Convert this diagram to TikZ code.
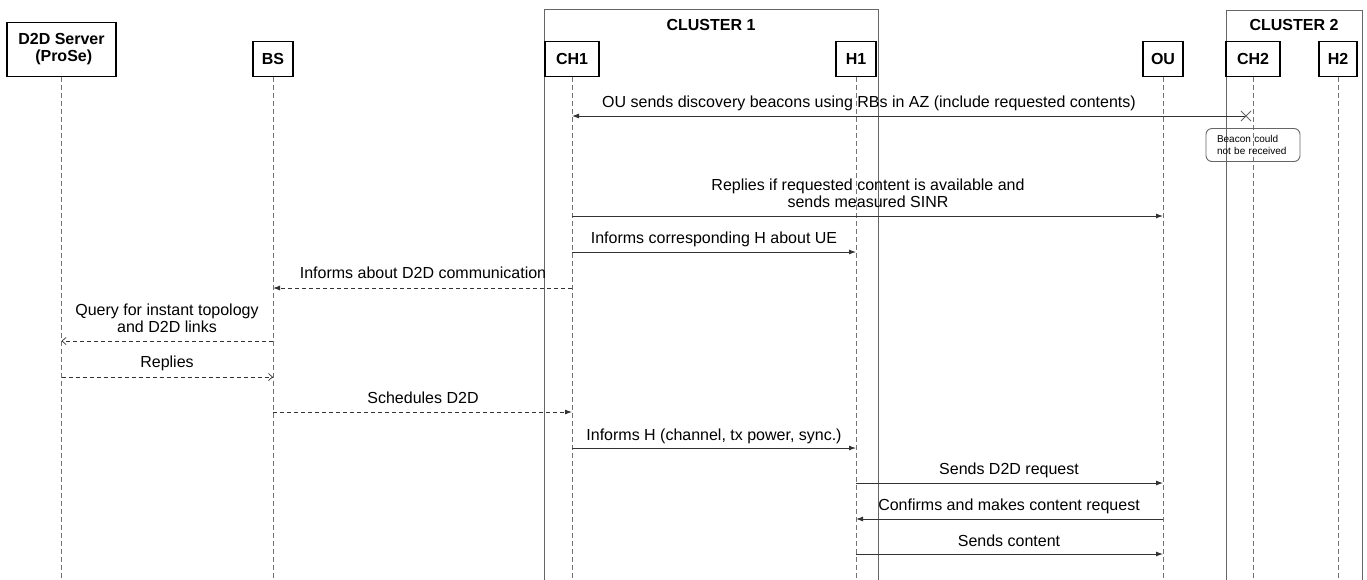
\documentclass[tikz,border=0pt]{standalone}
\usepackage{fontspec}
\setmainfont{Liberation Sans}
\usetikzlibrary{positioning, shapes, arrows.meta, calc}

\tikzset{
	actor/.style={draw, line width=1.3pt, inner sep=0pt, minimum height=35pt, anchor=south, font=\fontsize{16}{17}\selectfont\bfseries},
	life/.style={draw=black!55, line width=0.9pt, dash pattern=on 5pt off 3pt},
	frame/.style={draw=black!60, line width=1pt},
	msg/.style={draw=black!80, line width=0.9pt, -{Latex[length=7pt,width=5pt]}},
	dmsg/.style={msg, dash pattern=on 4pt off 3pt},
	rmsg/.style={draw=black!80, line width=0.9pt, dash pattern=on 4pt off 3pt, -{Straight Barb[length=4pt,width=7pt,line width=0.7pt]}},
	lbl/.style={inner sep=0pt, align=center, font=\fontsize{16}{17}\selectfont},
	note/.style={draw=black!60, line width=0.9pt, rounded corners=6pt, align=left, inner xsep=11pt, inner ysep=0pt, font=\fontsize{10}{12}\selectfont}
}

\begin{document}
\begin{tikzpicture}[x=1pt, y=-1pt]
	\useasboundingbox (0,0) rectangle (1367,579);

	% clusters
	\draw[frame] (544,9) rectangle (878,590);
	\draw[frame] (1226,10) rectangle (1362,590);
	\node[lbl, font=\fontsize{16}{17}\selectfont\bfseries] (C1) at (711,25) {CLUSTER 1};
	\node[lbl, font=\fontsize{16}{17}\selectfont\bfseries] (C2) at (1294,25) {CLUSTER 2};

	% participants
	\node[actor, minimum width=109pt, minimum height=54pt, align=center] (srv) at (61.5,77) {D2D Server\\ \ (ProSe)\rule[-4pt]{0pt}{4pt}};
	\node[actor, minimum width=40pt] (bs) at (273,77) {BS};
	\node[actor, minimum width=54pt] (ch1) at (572,77) {CH1};
	\node[actor, minimum width=40pt] (h1) at (856,77) {H1};
	\node[actor, minimum width=40pt] (ou) at (1163,77) {OU};
	\node[actor, minimum width=54pt] (ch2) at (1253,77) {CH2};
	\node[actor, minimum width=38pt] (h2) at (1338,77) {H2};

	% lifelines
	\foreach \p in {srv, bs, ch1, h1, ou, ch2, h2}
		\draw[life] (\p.south) -- (\p |- 0,590);

	% lost beacon
	\coordinate (lost) at (1246,116);
	\draw[msg] (lost) -- (ch1 |- lost);
	\draw[black!60, line width=0.8pt] ($(lost)+(-5,-5)$) -- ($(lost)+(5,5)$) ($(lost)+(-5,5)$) -- ($(lost)+(5,-5)$);
	\node[lbl] (L1) at (869,103) {OU sends discovery beacons using RBs in AZ (include requested contents)};
	\node[note, minimum height=33pt, text width=72pt] (N1) at (1253,145) {Beacon could\\not be received};

	% messages
	\node[lbl] (L2) at (868,193) {Replies if requested content is available and\\sends measured SINR};
	\draw[msg] (ch1 |- 0,216) -- (ou |- 0,216);

	\node[lbl] (L3) at (714,239) {Informs corresponding H about UE};
	\draw[msg] (ch1 |- 0,252) -- (h1 |- 0,252);

	\node[lbl] (L4) at (423,273) {Informs about D2D communication};
	\draw[dmsg] (ch1 |- 0,288) -- (bs |- 0,288);

	\node[lbl] (L5) at (167,318) {Query for instant topology\\and D2D links};
	\draw[rmsg] (bs |- 0,341) -- (srv |- 0,341);

	\node[lbl] (L6) at (167,363) {Replies};
	\draw[rmsg] (srv |- 0,377) -- (bs |- 0,377);

	\node[lbl] (L7) at (423,398) {Schedules D2D};
	\draw[dmsg] (bs |- 0,412) -- (ch1 |- 0,412);

	\node[lbl] (L8) at (714,436) {Informs H (channel, tx power, sync.)};
	\draw[msg] (ch1 |- 0,448) -- (h1 |- 0,448);

	\node[lbl] (L9) at (1009,470) {Sends D2D request};
	\draw[msg] (h1 |- 0,483) -- (ou |- 0,483);

	\node[lbl] (L10) at (1009,506) {Confirms and makes content request};
	\draw[msg] (ou |- 0,519) -- (h1 |- 0,519);

	\node[lbl] (L11) at (1009,541) {Sends content};
	\draw[msg] (h1 |- 0,554) -- (ou |- 0,554);
\end{tikzpicture}
\end{document}
